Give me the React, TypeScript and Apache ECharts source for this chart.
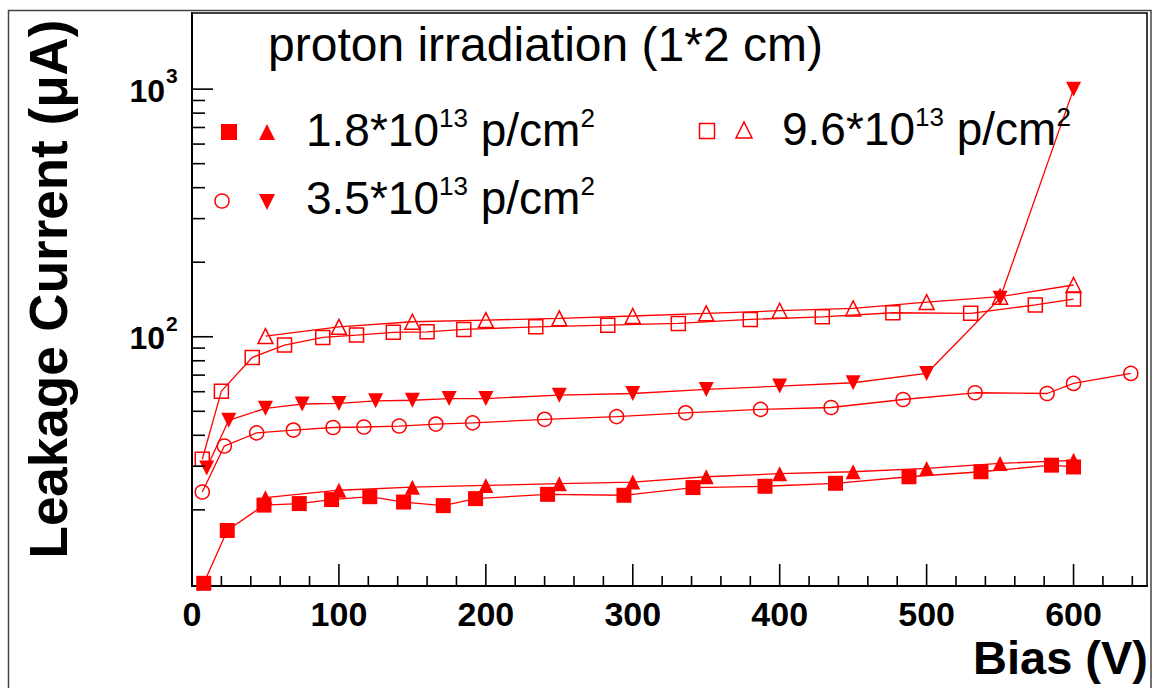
import React, { useEffect, useRef } from 'react';
import * as echarts from 'echarts';

const RED = '#ff0000';
const FONT = '"Liberation Sans", Arial, Helvetica, sans-serif';

// axis ranges
const X_MIN = 0;
const X_MAX = 650;
const Y_MIN = 9.85;
const Y_MAX = 2030;

// tick values
const xMajorTicks = [0, 100, 200, 300, 400, 500, 600];
const xMinorTicks = [20, 40, 60, 80, 120, 140, 160, 180, 220, 240, 260, 280, 320, 340, 360, 380, 420, 440, 460, 480, 520, 540, 560, 580, 620, 640];
const yMajorTicks = [100, 1000];
const yMinorTicks = [20, 30, 40, 50, 60, 70, 80, 90, 200, 300, 400, 500, 600, 700, 800, 900];
const yLabelValues = [100, 1000];
const yLabelExponents = ['2', '3'];

// 1.8e13 p/cm2 : filled squares
const sq18X = [8, 24, 49, 73, 95, 121, 144, 171, 193, 242, 294, 341, 390, 438, 488, 537, 585, 600];
const sq18Y = [10.1, 16.5, 20.9, 21.2, 22.0, 22.6, 21.5, 20.8, 22.2, 23.1, 22.9, 24.6, 24.9, 25.6, 27.2, 28.5, 30.3, 29.8];
// 1.8e13 p/cm2 : filled triangles up
const tri18X = [50, 100, 150, 200, 250, 300, 350, 400, 450, 500, 550, 600];
const tri18Y = [22.4, 24.0, 24.7, 25.1, 25.5, 25.9, 27.2, 28.0, 28.5, 29.4, 30.8, 31.7];
// 3.5e13 p/cm2 : open circles
const circ35X = [7, 22, 44, 69, 96, 117, 141, 166, 191, 240, 289, 336, 387, 435, 484, 533, 582, 600, 639];
const circ35Y = [23.6, 36.2, 40.9, 42.0, 43.0, 43.2, 43.6, 44.4, 44.9, 46.4, 47.6, 49.3, 50.9, 51.8, 55.8, 59.4, 59.0, 64.8, 71.1];
// 3.5e13 p/cm2 : filled triangles down
const tdn35X = [10, 25, 50, 75, 100, 125, 150, 175, 200, 250, 300, 350, 400, 450, 500, 550, 600];
const tdn35Y = [29.5, 46.0, 51.4, 53.5, 53.8, 55.1, 55.4, 56.3, 56.3, 58.1, 59.0, 61.3, 63.2, 65.2, 71.1, 143, 1000];
// 9.6e13 p/cm2 : open squares
const sq96X = [7, 20, 41, 63, 89, 112, 137, 160, 185, 234, 283, 331, 380, 429, 477, 530, 574, 600];
const sq96Y = [32.0, 60.3, 82.5, 92.6, 99.4, 101.6, 104.2, 104.7, 107.1, 109.7, 111.4, 113.2, 117.5, 120.4, 125.0, 124.3, 134.4, 142];
// 9.6e13 p/cm2 : open triangles up
const tri96X = [50, 100, 150, 200, 250, 300, 350, 400, 450, 500, 550, 600];
const tri96Y = [100.6, 109.7, 115.0, 116.8, 118.7, 121.3, 124.3, 127.4, 130.2, 138.0, 145.1, 161.8];

const zip = (xs: number[], ys: number[]) => xs.map((x, i) => [x, ys[i]]);

function lineSeries(name: string, xs: number[], ys: number[], symbol: string, size: number, filled: boolean, rotate = 0) {
  return {
    type: 'line',
    name,
    data: zip(xs, ys),
    symbol,
    symbolSize: size,
    symbolRotate: rotate,
    showSymbol: true,
    silent: true,
    clip: true,
    lineStyle: { color: RED, width: 1.3 },
    itemStyle: filled
      ? { color: RED, borderColor: RED, borderWidth: 0 }
      : { color: 'rgba(0,0,0,0)', borderColor: RED, borderWidth: 1.5 },
    z: 3,
  };
}

function xTickSeries(values: number[], len: number) {
  return {
    type: 'custom',
    coordinateSystem: 'cartesian2d',
    silent: true,
    clip: false,
    z: 10,
    data: values.map((v) => [v, Y_MIN]),
    renderItem: (_p: any, api: any) => {
      const p = api.coord([api.value(0), api.value(1)]);
      return { type: 'line', shape: { x1: p[0], y1: p[1], x2: p[0], y2: p[1] - len }, style: { stroke: '#000', lineWidth: 1.6 } };
    },
  };
}

function yTickSeries(values: number[], len: number) {
  return {
    type: 'custom',
    coordinateSystem: 'cartesian2d',
    silent: true,
    clip: false,
    z: 10,
    data: values.map((v) => [X_MIN, v]),
    renderItem: (_p: any, api: any) => {
      const p = api.coord([api.value(0), api.value(1)]);
      return { type: 'line', shape: { x1: p[0], y1: p[1], x2: p[0] + len, y2: p[1] }, style: { stroke: '#000', lineWidth: 1.6 } };
    },
  };
}

const yLabelSeries = {
  type: 'custom',
  coordinateSystem: 'cartesian2d',
  silent: true,
  clip: false,
  z: 10,
  data: yLabelValues.map((v) => [X_MIN, v]),
  renderItem: (params: any, api: any) => {
    const p = api.coord([api.value(0), api.value(1)]);
    return {
      type: 'group',
      children: [
        { type: 'text', x: p[0] - 27, y: p[1] + 1.5, style: { text: '10', fill: '#000', font: `bold 32px ${FONT}`, align: 'right', verticalAlign: 'middle' } },
        { type: 'text', x: p[0] - 26, y: p[1] - 13.5, style: { text: yLabelExponents[params.dataIndex], fill: '#000', font: `bold 21px ${FONT}`, align: 'left', verticalAlign: 'middle' } },
      ],
    };
  },
};

const legendRich = {
  n: { fontFamily: FONT, fontSize: 46, lineHeight: 50, fill: '#000', verticalAlign: 'middle' },
  s: { fontFamily: FONT, fontSize: 26, lineHeight: 27, fill: '#000', verticalAlign: 'top' },
};

function legendText(x: number, y: number, text: string) {
  return { type: 'text', x, y, z: 20, style: { text, rich: legendRich, align: 'left', verticalAlign: 'middle', fill: '#000' } };
}

export default function App() {
  const ref = useRef<HTMLDivElement>(null);
  useEffect(() => {
    if (!ref.current) return;
    const chart = echarts.init(ref.current, null, { renderer: 'svg' });
    chart.setOption({
      animation: false,
      backgroundColor: '#ffffff',
      grid: { left: 192, top: 13, right: 9, bottom: 102, show: true, borderColor: '#000', borderWidth: 1.5, backgroundColor: 'transparent' },
      xAxis: {
        type: 'value',
        min: X_MIN,
        max: X_MAX,
        interval: 100,
        axisLine: { show: true, lineStyle: { color: '#000', width: 2 } },
        axisTick: { show: false },
        minorTick: { show: false },
        splitLine: { show: false },
        axisLabel: {
          show: true,
          margin: 11,
          color: '#000',
          fontFamily: FONT,
          fontWeight: 'bold',
          fontSize: 34,
          formatter: (v: number) => (xMajorTicks.indexOf(v) >= 0 ? String(v) : ''),
        },
      },
      yAxis: {
        type: 'log',
        logBase: 10,
        min: Y_MIN,
        max: Y_MAX,
        axisLine: { show: true, lineStyle: { color: '#000', width: 2 } },
        axisTick: { show: false },
        minorTick: { show: false },
        splitLine: { show: false },
        axisLabel: { show: false },
      },
      graphic: [
        { type: 'rect', z: 0, shape: { x: 8.5, y: 10.5, width: 1142.5, height: 700 }, style: { fill: 'none', stroke: '#444', lineWidth: 1.5 } },
        { type: 'text', x: 268, y: 44, z: 20, style: { text: 'proton irradiation (1*2 cm)', font: `48px ${FONT}`, fill: '#000', align: 'left', verticalAlign: 'middle' } },
        { type: 'text', x: 48.6, y: 289, rotation: Math.PI / 2, z: 20, style: { text: 'Leakage Current (\u03bcA)', font: `bold 53px ${FONT}`, fill: '#000', align: 'center', verticalAlign: 'middle' } },
        { type: 'text', x: 1148, y: 657, z: 20, style: { text: 'Bias (V)', font: `bold 47px ${FONT}`, lineHeight: 42, fill: '#000', align: 'right', verticalAlign: 'middle' } },
        // legend row 1
        { type: 'rect', z: 20, shape: { x: 221, y: 124, width: 16, height: 16 }, style: { fill: RED } },
        { type: 'polygon', z: 20, shape: { points: [[259, 140], [275, 140], [267, 124]] }, style: { fill: RED } },
        legendText(306, 130, '{n|1.8*10}{s|13}{n| p/cm}{s|2}'),
        // legend row 2
        { type: 'circle', z: 20, shape: { cx: 222, cy: 201, r: 7 }, style: { fill: 'none', stroke: RED, lineWidth: 1.5 } },
        { type: 'polygon', z: 20, shape: { points: [[259, 194], [275, 194], [267, 210]] }, style: { fill: RED } },
        legendText(306, 198, '{n|3.5*10}{s|13}{n| p/cm}{s|2}'),
        // legend row 3
        { type: 'rect', z: 20, shape: { x: 699.5, y: 123.5, width: 15, height: 15 }, style: { fill: 'none', stroke: RED, lineWidth: 1.5 } },
        { type: 'polygon', z: 20, shape: { points: [[736, 138], [752, 138], [744, 122]] }, style: { fill: 'none', stroke: RED, lineWidth: 1.5 } },
        legendText(782, 129, '{n|9.6*10}{s|13}{n| p/cm}{s|2}'),
      ],
      series: [
        lineSeries('1.8e13 a', sq18X, sq18Y, 'rect', 15, true),
        lineSeries('1.8e13 b', tri18X, tri18Y, 'triangle', 15, true),
        lineSeries('3.5e13 a', circ35X, circ35Y, 'circle', 14, false),
        lineSeries('3.5e13 b', tdn35X, tdn35Y, 'triangle', 15, true, 180),
        lineSeries('9.6e13 a', sq96X, sq96Y, 'rect', 14, false),
        lineSeries('9.6e13 b', tri96X, tri96Y, 'triangle', 15, false),
        xTickSeries(xMajorTicks, 22),
        xTickSeries(xMinorTicks, 10),
        yTickSeries(yMajorTicks, 21),
        yTickSeries(yMinorTicks, 13),
        yLabelSeries,
      ],
    });
    return () => chart.dispose();
  }, []);
  return <div ref={ref} style={{ position: 'fixed', left: 0, top: 0, width: 1156, height: 688 }} />;
}
